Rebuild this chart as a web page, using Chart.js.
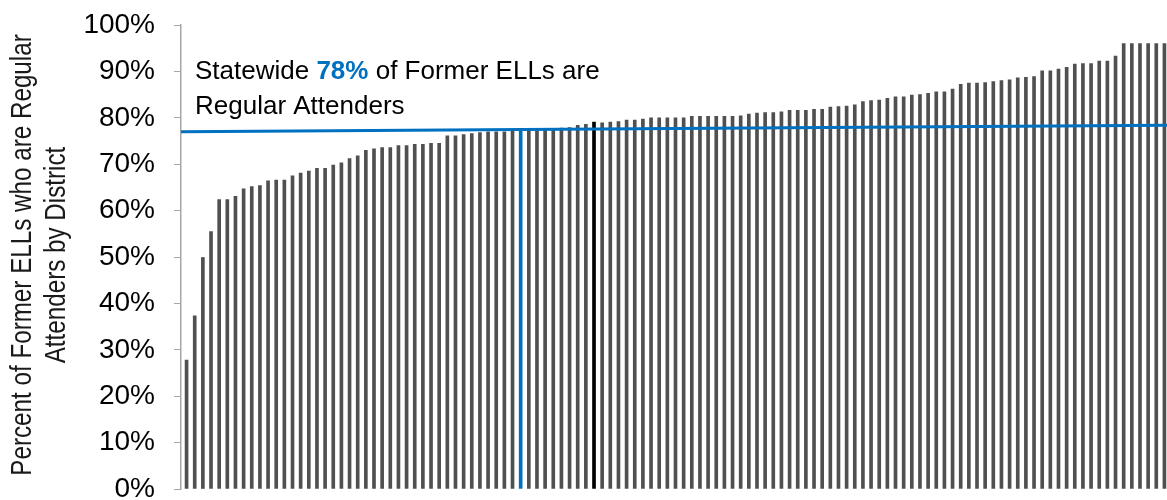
<!DOCTYPE html>
<html>
<head>
<meta charset="utf-8">
<script src="https://cdn.jsdelivr.net/npm/chart.js@4/dist/chart.umd.min.js"></script>
<style>
  html, body { margin: 0; padding: 0; background: #ffffff; }
  #wrap { width: 1167px; height: 500px; position: relative; }
</style>
</head>
<body>
<div id="wrap"><canvas id="attendChart"></canvas></div>
<script>
// Percent of former ELLs who are regular attenders, one bar per district (sorted)
const barValues = [
    27.8, 37.3, 49.9, 55.5, 62.4, 62.4, 63.1, 64.7, 65.2, 65.4,
    66.4, 66.6, 66.6, 67.5, 68.1, 68.5, 69.1, 69.1, 69.8, 70.3,
    71.2, 71.8, 73.0, 73.3, 73.6, 73.6, 74.0, 74.0, 74.3, 74.3,
    74.5, 74.5, 76.1, 76.1, 76.4, 76.6, 76.8, 77.0, 77.0, 77.0,
    77.1, 77.2, 77.3, 77.4, 77.5, 77.6, 77.8, 77.9, 78.4, 78.6,
    79.1, 78.9, 79.1, 79.2, 79.5, 79.5, 79.7, 80.0, 80.0, 80.0,
    80.0, 80.0, 80.3, 80.3, 80.3, 80.3, 80.3, 80.3, 80.4, 80.8,
    81.0, 81.1, 81.1, 81.3, 81.6, 81.6, 81.6, 81.8, 81.8, 82.3,
    82.4, 82.5, 82.8, 83.5, 83.7, 83.8, 84.2, 84.5, 84.5, 84.9,
    85.0, 85.3, 85.6, 85.6, 86.2, 87.2, 87.5, 87.5, 87.6, 87.8,
    88.0, 88.2, 88.6, 88.7, 88.9, 90.1, 90.1, 90.5, 90.9, 91.6,
    91.7, 91.7, 92.2, 92.2, 93.3, 96.0, 96.0, 96.0, 96.0, 96.0,
    96.0
];
const districts = barValues.map((v, i) => 'District ' + (i + 1));

// highlighted bars (1-based position in the sorted list)
const markerBar = 42;     // drawn as the blue drop line
const focusBar = 51;      // drawn in black

// statewide reference line, left end and right end (%)
const statewideLine = [77.0, 78.4];

const yTicks = [0, 10, 20, 30, 40, 50, 60, 70, 80, 90, 100];
const yTitle = ['Percent of Former ELLs who are Regular', 'Attenders by District'];

const BLUE = '#0070C0';
const GREY = '#505050';

const barColors = barValues.map((v, i) => {
    if (i + 1 === markerBar) return BLUE;
    if (i + 1 === focusBar) return '#000000';
    return GREY;
});

// annotation text at top-left of the plot + narrow y axis title
const calloutPlugin = {
    id: 'callout',
    afterDraw(chart) {
        const ctx = chart.ctx;
        const area = chart.chartArea;
        const left = area.left + 14;
        ctx.save();
        ctx.textBaseline = 'alphabetic';
        ctx.textAlign = 'left';
        const normal = '26px "Liberation Sans", Arial, sans-serif';
        const bold = 'bold 26px "Liberation Sans", Arial, sans-serif';
        let x = left;
        const y1 = 79;
        const parts = [
            ['Statewide ', normal, '#000000'],
            ['78%', bold, BLUE],
            [' of Former ELLs are', normal, '#000000']
        ];
        parts.forEach(p => {
            ctx.font = p[1];
            ctx.fillStyle = p[2];
            ctx.fillText(p[0], x, y1);
            x += ctx.measureText(p[0]).width;
        });
        ctx.font = normal;
        ctx.fillStyle = '#000000';
        ctx.fillText('Regular Attenders', left, y1 + 35);
        ctx.restore();

        // y title, condensed like Arial Narrow
        const midY = (area.top + area.bottom) / 2 - 2;
        ctx.save();
        ctx.font = '29px "Liberation Sans", Arial, sans-serif';
        ctx.fillStyle = '#1a1a1a';
        ctx.textAlign = 'center';
        ctx.textBaseline = 'middle';
        yTitle.forEach((line, i) => {
            ctx.save();
            ctx.translate(23 + i * 34, midY);
            ctx.rotate(-Math.PI / 2);
            ctx.scale(0.835, 1);
            ctx.fillText(line, 0, 0);
            ctx.restore();
        });
        ctx.restore();
    }
};

const ctx = document.getElementById('attendChart');

new Chart(ctx, {
    type: 'bar',
    data: {
        labels: districts,
        datasets: [
            {
                type: 'line',
                label: 'Statewide',
                data: [{ x: 0, y: statewideLine[0] }, { x: 1, y: statewideLine[1] }],
                xAxisID: 'x2',
                borderColor: BLUE,
                borderWidth: 3,
                pointRadius: 0,
                fill: false,
                order: 0
            },
            {
                label: 'District',
                data: barValues,
                backgroundColor: barColors,
                barThickness: 3,
                order: 1
            }
        ]
    },
    options: {
        responsive: true,
        maintainAspectRatio: false,
        animation: false,
        layout: { padding: { top: 25, bottom: 11, left: 0, right: 0 } },
        plugins: {
            legend: { display: false },
            tooltip: { enabled: false }
        },
        scales: {
            x: { display: false },
            x2: { type: 'linear', display: false, offset: false, min: 0, max: 1 },
            y: {
                min: 0,
                max: 100,
                afterBuildTicks: (scale) => {
                    scale.ticks = yTicks.map(v => ({ value: v }));
                },
                afterFit: (scale) => {
                    scale.width = 181;
                    scale.paddingTop = 0;
                    scale.paddingBottom = 0;
                },
                ticks: {
                    color: '#000000',
                    font: { family: '"Liberation Sans", Arial, sans-serif', size: 28 },
                    padding: 19,
                    callback: (v) => v + '%'
                },
                grid: {
                    drawOnChartArea: false,
                    drawTicks: true,
                    tickLength: 7,
                    color: '#a6a6a6'
                },
                border: { display: true, color: '#a6a6a6', width: 1.5 },
                title: { display: false }
            }
        }
    },
    plugins: [calloutPlugin]
});
</script>
</body>
</html>
